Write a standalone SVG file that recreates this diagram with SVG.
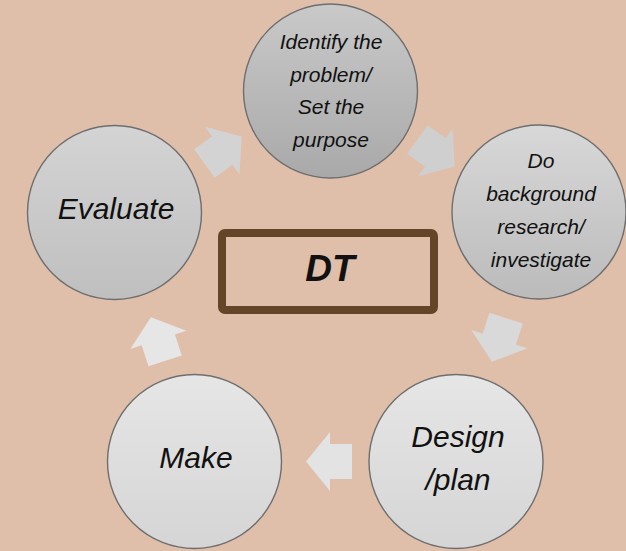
<svg xmlns="http://www.w3.org/2000/svg" width="626" height="551" viewBox="0 0 626 551">
  <style>
    .node circle { stroke: #6e6e6e; stroke-width: 1.4; }
    .lbl { font-family: "Liberation Sans", Arial, sans-serif; font-style: italic; fill: #111; text-anchor: middle; }
    .sm { font-size: 21px; }
    .lg { font-size: 30px; }
    .arrow { stroke: none; }
  </style>
  <defs>
    <linearGradient id="gTop" x1="0" y1="0" x2="0" y2="1">
      <stop offset="0" stop-color="#c9c9c9"/>
      <stop offset="1" stop-color="#a9a9a9"/>
    </linearGradient>
    <linearGradient id="gRight" x1="0" y1="0" x2="0" y2="1">
      <stop offset="0" stop-color="#d8d8d8"/>
      <stop offset="1" stop-color="#bbbbbb"/>
    </linearGradient>
    <linearGradient id="gEval" x1="0" y1="0" x2="0" y2="1">
      <stop offset="0" stop-color="#d4d4d4"/>
      <stop offset="1" stop-color="#bfbfbf"/>
    </linearGradient>
    <linearGradient id="gBot" x1="0" y1="0" x2="0" y2="1">
      <stop offset="0" stop-color="#e6e6e6"/>
      <stop offset="1" stop-color="#d5d5d5"/>
    </linearGradient>
    <linearGradient id="gArrow" x1="0" y1="0" x2="1" y2="0">
      <stop offset="0" stop-color="#e4e4e4"/>
      <stop offset="1" stop-color="#d2d2d2"/>
    </linearGradient>
    <polygon id="blockArrow" points="-23,-17.5 -1,-17.5 -1,-29.5 23,0 -1,29.5 -1,17.5 -23,17.5"/>
  </defs>

  <rect x="0" y="0" width="626" height="551" fill="#dfbfaa"/>

  <g id="connectors">
    <use href="#blockArrow" class="arrow" fill="#d3d3d3" transform="translate(223,150) rotate(-36)"/>
    <use href="#blockArrow" class="arrow" fill="#cfcfcf" transform="translate(436,153) rotate(36)"/>
    <use href="#blockArrow" class="arrow" fill="#d9d9d9" transform="translate(499,340) rotate(108)"/>
    <use href="#blockArrow" class="arrow" fill="#e3e3e3" transform="translate(329,461.5) rotate(180)"/>
    <use href="#blockArrow" class="arrow" fill="#e6e6e6" transform="translate(158,339) rotate(252)"/>
  </g>

  <g id="node-identify" class="node">
    <circle cx="330.5" cy="91" r="87" fill="url(#gTop)"/>
    <text class="lbl sm" x="331" y="49">Identify the</text>
    <text class="lbl sm" x="331" y="81.5">problem/</text>
    <text class="lbl sm" x="331" y="114">Set the</text>
    <text class="lbl sm" x="331" y="146.5">purpose</text>
  </g>

  <g id="node-research" class="node">
    <circle cx="539" cy="212" r="87" fill="url(#gRight)"/>
    <text class="lbl sm" x="541" y="168">Do</text>
    <text class="lbl sm" x="541" y="201">background</text>
    <text class="lbl sm" x="541" y="234">research/</text>
    <text class="lbl sm" x="541" y="267">investigate</text>
  </g>

  <g id="node-design" class="node">
    <circle cx="456" cy="461.5" r="87" fill="url(#gBot)"/>
    <text class="lbl lg" x="458" y="447">Design</text>
    <text class="lbl lg" x="458" y="490">/plan</text>
  </g>

  <g id="node-make" class="node">
    <circle cx="194.5" cy="461.5" r="87" fill="url(#gBot)"/>
    <text class="lbl lg" x="196" y="468">Make</text>
  </g>

  <g id="node-evaluate" class="node">
    <circle cx="114.5" cy="212.5" r="87" fill="url(#gEval)"/>
    <text class="lbl lg" x="116" y="219">Evaluate</text>
  </g>

  <g id="node-dt">
    <rect x="222" y="233" width="212" height="77" rx="3" fill="none" stroke="#654527" stroke-width="8"/>
    <text class="lbl" x="330" y="281" style="font-size:37px;font-weight:bold">DT</text>
  </g>
</svg>
